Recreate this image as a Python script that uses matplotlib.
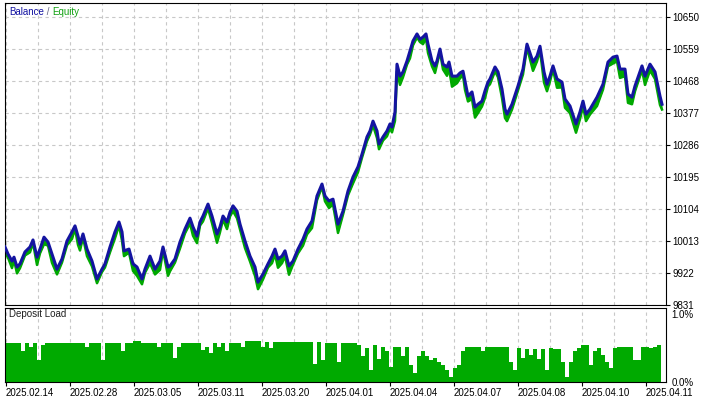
import numpy as np
import matplotlib.pyplot as plt

# Balance curve (x = deal number)
deals = [0, 3, 7, 9, 12, 15, 20, 25, 28, 32,
         35, 39, 43, 47, 52, 57, 62, 67, 70, 73,
         75, 78, 82, 87, 92, 97, 100, 105, 110, 114,
         117, 119, 124, 128, 132, 137, 140, 145, 150, 155,
         158, 163, 165, 170, 175, 180, 185, 188, 192, 195,
         198, 203, 207, 212, 215, 218, 222, 225, 228, 232,
         235, 240, 245, 250, 253, 258, 263, 267, 270, 273,
         277, 280, 284, 288, 293, 298, 302, 307, 312, 317,
         320, 324, 328, 333, 338, 343, 348, 353, 357, 362,
         365, 368, 372, 374, 378, 382, 385, 387, 390, 392,
         395, 398, 402, 405, 408, 412, 415, 418, 421, 423,
         427, 430, 432, 435, 438, 442, 444, 447, 452, 455,
         458, 460, 463, 467, 470, 473, 477, 480, 483, 485,
         490, 493, 497, 500, 502, 507, 513, 518, 522, 528,
         532, 535, 539, 542, 545, 548, 552, 557, 560, 565,
         571, 575, 578, 581, 585, 592, 598, 603, 608, 612,
         615, 620, 623, 627, 630, 637, 640, 645, 650, 655,
         657]
balance = [9996, 9976, 9956, 9967, 9939, 9948, 9982, 9996, 10016, 9967,
           9990, 10024, 10010, 9976, 9933, 9962, 10013, 10039, 10056, 10027,
           10004, 10033, 9990, 9956, 9905, 9933, 9948, 9996, 10039, 10067,
           10039, 9985, 9990, 9948, 9939, 9905, 9933, 9970, 9933, 9956,
           9996, 9939, 9942, 9962, 10010, 10047, 10078, 10053, 10027, 10067,
           10084, 10118, 10084, 10033, 10053, 10084, 10067, 10095, 10113, 10098,
           10061, 10013, 9970, 9939, 9896, 9919, 9948, 9970, 9990, 9962,
           9970, 9985, 9942, 9956, 9990, 10018, 10047, 10070, 10141, 10175,
           10141, 10127, 10132, 10061, 10098, 10155, 10195, 10224, 10260, 10309,
           10326, 10354, 10326, 10289, 10309, 10326, 10346, 10337, 10380, 10516,
           10482, 10494, 10525, 10553, 10582, 10602, 10587, 10593, 10602, 10573,
           10525, 10511, 10525, 10559, 10516, 10508, 10522, 10482, 10482, 10491,
           10496, 10468, 10425, 10437, 10394, 10402, 10411, 10440, 10465, 10474,
           10508, 10494, 10445, 10388, 10374, 10402, 10454, 10502, 10573, 10522,
           10539, 10567, 10494, 10459, 10482, 10511, 10474, 10465, 10417, 10397,
           10346, 10380, 10411, 10374, 10388, 10422, 10459, 10522, 10536, 10539,
           10502, 10502, 10431, 10422, 10454, 10511, 10482, 10516, 10494, 10425,
           10402]
# floating P/L of open positions (equity - balance)
floating = [-15, -10, -20, -8, -18, -12, -10, -15, -8, -22,
            -12, -20, -10, -25, -15, -10, -12, -20, -8, -25,
            -18, -10, -20, -15, -12, -8, -10, -15, -18, -10,
            -25, -15, -10, -20, -25, -15, -10, -20, -15, -25,
            -10, -25, -15, -10, -18, -12, -15, -25, -20, -10,
            -15, -12, -20, -25, -15, -10, -20, -12, -15, -20,
            -15, -20, -15, -25, -20, -15, -10, -20, -15, -25,
            -20, -15, -25, -10, -12, -18, -15, -20, -12, -8,
            -15, -20, -15, -25, -10, -12, -18, -15, -10, -12,
            -10, -12, -20, -15, -10, -15, -12, -15, -25, -20,
            -25, -15, -10, -20, -12, -10, -8, -20, -12, -25,
            -15, -20, -10, -8, -15, -25, -18, -30, -20, -15,
            -12, -25, -15, -20, -30, -25, -15, -20, -12, -15,
            -12, -15, -25, -25, -20, -15, -12, -15, -10, -25,
            -15, -12, -30, -20, -15, -10, -25, -15, -25, -20,
            -25, -20, -15, -20, -15, -25, -15, -12, -18, -15,
            -25, -20, -25, -20, -15, -12, -25, -18, -20, -25,
            -15]

# deposit load in %, one value per 4 deals
load = [0.58, 0.58, 0.58, 0.58, 0.46, 0.58, 0.52, 0.58, 0.32, 0.55,
        0.58, 0.58, 0.58, 0.58, 0.58, 0.58, 0.58, 0.58, 0.58, 0.58,
        0.52, 0.58, 0.58, 0.58, 0.32, 0.57, 0.57, 0.57, 0.57, 0.46,
        0.57, 0.57, 0.60, 0.60, 0.57, 0.57, 0.57, 0.57, 0.52, 0.57,
        0.57, 0.57, 0.36, 0.52, 0.57, 0.57, 0.57, 0.57, 0.57, 0.47,
        0.52, 0.42, 0.57, 0.52, 0.57, 0.46, 0.57, 0.57, 0.57, 0.52,
        0.60, 0.60, 0.60, 0.60, 0.52, 0.59, 0.50, 0.59, 0.59, 0.59,
        0.59, 0.59, 0.59, 0.59, 0.59, 0.59, 0.59, 0.26, 0.59, 0.32,
        0.58, 0.58, 0.58, 0.30, 0.57, 0.57, 0.57, 0.57, 0.55, 0.38,
        0.50, 0.18, 0.55, 0.34, 0.52, 0.45, 0.22, 0.52, 0.52, 0.38,
        0.52, 0.25, 0.13, 0.38, 0.45, 0.38, 0.33, 0.36, 0.30, 0.25,
        0.17, 0.08, 0.20, 0.25, 0.45, 0.52, 0.52, 0.51, 0.51, 0.46,
        0.51, 0.51, 0.51, 0.51, 0.51, 0.51, 0.30, 0.18, 0.50, 0.35,
        0.48, 0.40, 0.49, 0.34, 0.48, 0.17, 0.50, 0.49, 0.49, 0.30,
        0.07, 0.30, 0.45, 0.50, 0.55, 0.55, 0.25, 0.45, 0.50, 0.40,
        0.30, 0.20, 0.50, 0.52, 0.52, 0.52, 0.52, 0.32, 0.32, 0.52,
        0.52, 0.50, 0.52, 0.54]

date_ticks = [1, 65, 129, 193, 257, 321, 385, 449, 513, 577, 641]
date_labels = ["2025.02.14", "2025.02.28", "2025.03.05", "2025.03.11", "2025.03.20",
               "2025.04.01", "2025.04.04", "2025.04.07", "2025.04.08", "2025.04.10",
               "2025.04.11"]
y_ticks = [9831, 9922, 10013, 10104, 10195, 10286, 10377, 10468, 10559, 10650]

plt.rcParams['font.family'] = ['Liberation Sans', 'DejaVu Sans']

W, H = 703, 397
fig = plt.figure(figsize=(W / 100, H / 100), dpi=100)
ax = fig.add_axes([5 / W, 1 - 305 / H, 661 / W, 302 / H])
ax2 = fig.add_axes([5 / W, 1 - 382 / H, 661 / W, 74 / H])

green = '#00a800'
blue = '#1414a0'
grid_x = np.arange(1, 661, 32)

# Balance / Equity
equity = np.array(balance) + np.array(floating)
ax.fill_between(deals, equity, balance, color=green, lw=0, zorder=2)
ax.plot(deals, equity, color=green, lw=1.8, zorder=2)
ax.plot(deals, balance, color=blue, lw=2.2, zorder=3)
ax.set_xlim(0, 661)
ax.set_ylim(9831, 10690)
ax.set_xticks(grid_x)
ax.set_yticks(y_ticks)
ax.yaxis.tick_right()
ax.tick_params(axis='x', length=0, labelbottom=False)
ax.tick_params(axis='y', length=3, labelsize=7, pad=1.5, colors='black')
ax.grid(color='#c8c8c8', ls=(0, (3, 3)), lw=0.8, zorder=0)
for s in ax.spines.values():
    s.set_color('black')

# legend text in three colours, placed one after the other
fig.canvas.draw()
r = fig.canvas.get_renderer()
x0 = 9
for txt, col in [("Balance", '#1010a0'), (" / ", '#606080'), ("Equity", '#10a010')]:
    t = fig.text(x0 / W, 1 - 12 / H, txt, color=col, fontsize=7, va='center')
    x0 += t.get_window_extent(r).width

# Deposit Load
ax2.bar(np.arange(len(load)) * 4, load, width=4, align='edge', color='#00aa00', lw=0, zorder=2)
ax2.set_xlim(0, 661)
ax2.set_ylim(0, 1.09)
ax2.set_yticks([0, 1.0], ["0.0%", "1.0%"])
ax2.yaxis.tick_right()
ax2.tick_params(axis='y', length=0, labelsize=7, pad=4)
ax2.set_xticks(date_ticks, date_labels, ha='left')
ax2.set_xticks(grid_x, minor=True)
ax2.tick_params(axis='x', which='major', length=3, labelsize=7, pad=1)
ax2.tick_params(axis='x', which='minor', length=0)
ax2.grid(axis='x', which='both', color='#c8c8c8', ls=(0, (3, 3)), lw=0.8, zorder=0)
ax2.text(4, 1.0, "Deposit Load", fontsize=7, color='#202020', va='center')

fig.savefig("out.png", dpi=100)
